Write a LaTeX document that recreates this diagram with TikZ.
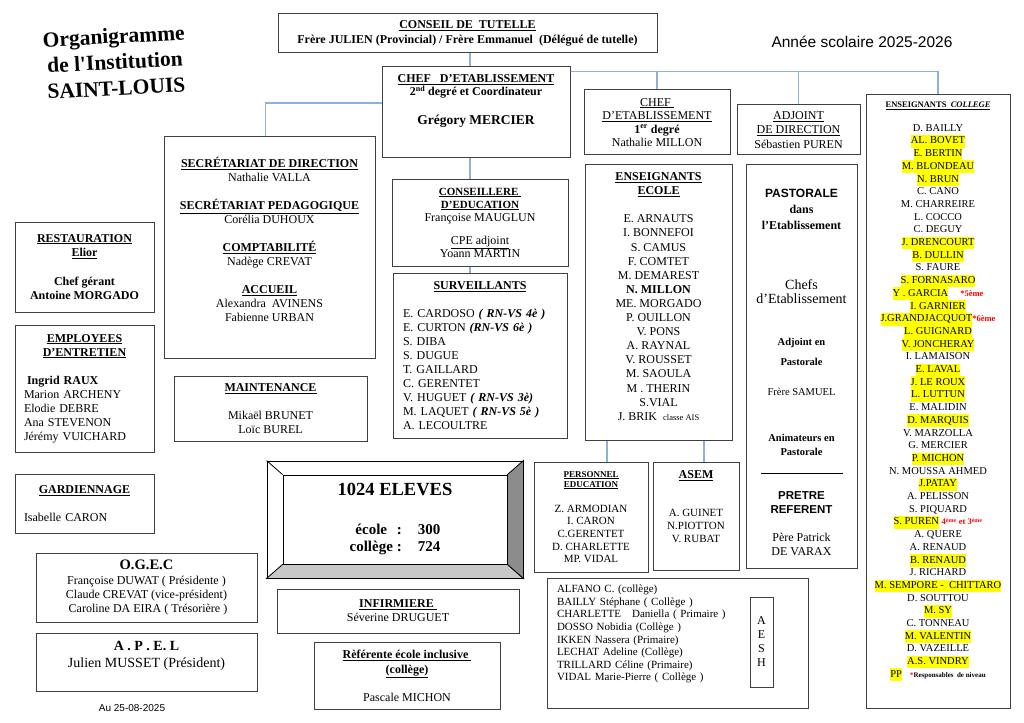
\documentclass[tikz,border=0pt]{standalone}
\usepackage{fontspec}
\setmainfont{Liberation Serif}
\newfontfamily\arialfont{Liberation Sans}
\usepackage{xcolor}
\usepackage{tikz}
\usetikzlibrary{calc}
\definecolor{linkblue}{RGB}{141,177,219}
\definecolor{hlyellow}{RGB}{255,255,0}
\definecolor{annred}{RGB}{255,0,0}
\definecolor{facedark}{RGB}{140,140,140}
\definecolor{facelight}{RGB}{200,200,200}
\newcommand{\fsz}[2]{\fontsize{#1}{#2}\selectfont}
\newcommand{\undl}[1]{\underline{#1}}
\newcommand{\lowpad}[1]{\rule[-#1]{0pt}{#1}}
\newcommand{\hl}[1]{{\setlength{\fboxsep}{0pt}\colorbox{hlyellow}{\strut #1}}}
\newcommand{\ann}[1]{\textcolor{annred}{\bfseries\fsz{8.5}{10}#1}}

\begin{document}
\begin{tikzpicture}[x=1pt,y=-1pt,
  unit/.style={draw=black!75,line width=1pt,fill=white,align=center,inner sep=0pt},
  link/.style={draw=linkblue,line width=1.3pt},
  titletext/.style={font=\bfseries\fsz{21.5}{26},align=center,rotate=3}
]
\fill[white] (0,0) rectangle (1024,722);
\useasboundingbox (0,0) rectangle (1024,722);

% title and year
\node[titletext] (title) at (115,62) {Organigramme\\de l\textquotesingle Institution\\SAINT-LOUIS};
\node[font=\arialfont\fsz{15.5}{18}] (year) at (862,42) {Année scolaire 2025-2026};

% direction
\node[unit,minimum width=379pt,minimum height=39pt,font=\bfseries\fsz{12}{14.5}] (conseil) at (467.5,33.5)
  {\undl{CONSEIL DE\ \ TUTELLE}\\Frère JULIEN (Provincial) / Frère Emmanuel\ \ (Délégué de tutelle)};
\node[unit,minimum width=188pt,minimum height=91pt,font=\bfseries\fsz{12}{13}] (chef) at (476,112.5)
  {\undl{CHEF\ \ \ D’ETABLISSEMENT}\\2\textsuperscript{nd} degré et Coordinateur\\[16pt]{\fsz{13.5}{16}Grégory MERCIER}\lowpad{25pt}};
\node[unit,minimum width=146pt,minimum height=65pt,font=\fsz{12}{13.5}] (chef1) at (657,122.5)
  {\undl{CHEF\ }\\\undl{D’ETABLISSEMENT}\\\textbf{1\textsuperscript{er} degré}\\Nathalie MILLON};
\node[unit,minimum width=123pt,minimum height=50pt,font=\fsz{12}{14.5}] (adj) at (798.5,130)
  {\undl{ADJOINT}\\\undl{DE DIRECTION}\\Sébastien PUREN};

% enseignants college
\node[unit,minimum width=144pt,minimum height=613pt,font=\fsz{10.5}{12.7}] (enscol) at (938,401.5) {
  {\fsz{8.5}{10}\bfseries\undl{ENSEIGNANTS\ \ \textit{COLLEGE}}}\\[11.3pt]
  D. BAILLY\\ \hl{AL. BOVET}\\ \hl{E. BERTIN}\\ \hl{M. BLONDEAU}\\ \hl{N. BRUN}\\
  C. CANO\\ M. CHARREIRE\\ L. COCCO\\ C. DEGUY\\ \hl{J. DRENCOURT}\\ \hl{B. DULLIN}\\
  S. FAURE\\ \hl{S. FORNASARO}\\ \hl{Y . GARCIA}\hspace{12pt}\ann{*5ème}\\
  \hl{I. GARNIER}\\ \hl{J.GRANDJACQUOT}\ann{*6ème}\\ \hl{L. GUIGNARD}\\ \hl{V. JONCHERAY}\\
  I. LAMAISON\\ \hl{E. LAVAL}\\ \hl{J. LE ROUX}\\ \hl{L. LUTTUN}\\ E. MALIDIN\\
  \hl{D. MARQUIS}\\ V. MARZOLLA\\ G. MERCIER\\ \hl{P. MICHON}\\ N. MOUSSA AHMED\\
  \hl{J.PATAY}\\ A. PELISSON\\ S. PIQUARD\\
  \hl{S. PUREN}\ \ann{4\textsuperscript{ème} et 3\textsuperscript{ème}}\\
  A. QUERE\\ A. RENAUD\\ \hl{B. RENAUD}\\ J. RICHARD\\ \hl{M. SEMPORE -\ \ CHITTARO}\\
  D. SOUTTOU\\ \hl{M. SY}\\ C. TONNEAU\\ \hl{M. VALENTIN}\\ D. VAZEILLE\\ \hl{A.S. VINDRY}\\
  \hl{PP}\hspace{8pt}{\fsz{7}{8}\bfseries\textcolor{annred}{*}Responsables\ \ de niveau}\lowpad{24pt}};

% administration
\node[unit,minimum width=211pt,minimum height=221pt,font=\fsz{12}{14}] (sec) at (269.5,247.5) {
  \textbf{\undl{SECRÉTARIAT DE DIRECTION}}\\
  Nathalie VALLA\hspace*{26pt}\\[14pt]
  \textbf{\undl{SECRÉTARIAT PEDAGOGIQUE}}\\
  Corélia DUHOUX\hspace*{34pt}\\[14pt]
  \textbf{\undl{COMPTABILITÉ}}\\
  Nadège CREVAT\\[14pt]
  \textbf{\undl{ACCUEIL}}\\
  Alexandra\ \ AVINENS\\
  Fabienne URBAN\lowpad{16pt}};
\node[unit,minimum width=176pt,minimum height=87pt,font=\fsz{12}{13}] (cons) at (480,222.5) {
  {\fsz{11}{13}\bfseries\undl{CONSEILLERE\ }}\\
  {\fsz{11}{13}\bfseries\undl{D’EDUCATION}}\\
  Françoise MAUGLUN\\[10pt]
  \undl{CPE adjoint}\\
  Yoann MARTIN};
\node[unit,minimum width=174pt,minimum height=165pt,text width=154pt,align=left,font=\fsz{12}{14}] (surv) at (480,355.5) {
  \makebox[\linewidth]{\bfseries\undl{SURVEILLANTS}}\\[14pt]
  E. CARDOSO \textbf{\textit{( RN-VS 4è )}}\\
  E. CURTON \textbf{\textit{(RN-VS 6è )}}\\
  S. DIBA\\
  S. DUGUE\\
  T. GAILLARD\\
  C. GERENTET\\
  V. HUGUET \textbf{\textit{( RN-VS 3è)}}\\
  M. LAQUET \textbf{\textit{( RN-VS 5è )}}\\
  A. LECOULTRE};
\node[unit,minimum width=147pt,minimum height=275pt,font=\fsz{12}{14.1}] (ensec) at (658.5,302.5) {
  \textbf{\undl{ENSEIGNANTS}}\\
  \textbf{\undl{ECOLE}}\\[14pt]
  E. ARNAUTS\\ I. BONNEFOI\\ S. CAMUS\\ F. COMTET\\ M. DEMAREST\\ \textbf{N. MILLON}\\
  ME. MORGADO\\ P. OUILLON\\ V. PONS\\ A. RAYNAL\\ V. ROUSSET\\ M. SAOULA\\
  M . THERIN\\ S.VIAL\\ J. BRIK\ \ {\fsz{8.5}{10}classe AIS}\lowpad{12pt}};
\node[unit,minimum width=111pt,minimum height=403pt,font=\fsz{12}{14}] (past) at (801.5,366.5) {
  \rule{0pt}{20pt}{\arialfont\bfseries PASTORALE}\\[2pt]
  \textbf{dans}\\[2pt]
  \textbf{l’Etablissement}\\[46pt]
  {\fsz{14}{16}Chefs}\\
  {\fsz{14}{16}d’Etablissement}\\[28pt]
  {\fsz{10.5}{12}\bfseries Adjoint en}\\[6pt]
  {\fsz{10.5}{12}\bfseries Pastorale}\\[16pt]
  {\fsz{10.5}{12}Frère SAMUEL}\\[32pt]
  {\fsz{10.5}{12}\bfseries Animateurs en}\\
  {\fsz{10.5}{12}\bfseries Pastorale}\\[4pt]
  \rule{82pt}{0.7pt}\\[12pt]
  {\arialfont\bfseries\fsz{11.5}{14}PRETRE}\\
  {\arialfont\bfseries\fsz{11.5}{14}REFERENT}\\[14pt]
  Père Patrick\\
  DE VARAX};

% services
\node[unit,minimum width=139pt,minimum height=90pt,font=\bfseries\fsz{12}{14.3}] (resto) at (84.5,267)
  {\undl{RESTAURATION}\\\undl{Elior}\\[14.7pt]Chef gérant\\Antoine MORGADO};
\node[unit,minimum width=139pt,minimum height=127pt,text width=121pt,align=left,font=\fsz{12}{14}] (empl) at (84.5,388.5) {
  \makebox[\linewidth]{\bfseries\undl{EMPLOYEES}}\\
  \makebox[\linewidth]{\bfseries\undl{D’ENTRETIEN}}\\[14pt]
  \hspace*{3pt}\textbf{Ingrid RAUX}\\
  Marion ARCHENY\\
  Elodie DEBRE\\
  Ana STEVENON\\
  Jérémy VUICHARD};
\node[unit,minimum width=193pt,minimum height=65pt,font=\fsz{12}{14}] (maint) at (270.5,408.5)
  {\textbf{\undl{MAINTENANCE}}\\[14pt]Mikaël BRUNET\\Loïc BUREL};
\node[unit,minimum width=139pt,minimum height=59pt,text width=121pt,align=left,font=\fsz{12}{14}] (gard) at (84.5,503.5)
  {\makebox[\linewidth]{\bfseries\undl{GARDIENNAGE}}\\[14pt]Isabelle CARON};
\node[unit,minimum width=221pt,minimum height=69pt,font=\fsz{12}{14}] (ogec) at (146.5,587.5)
  {{\fsz{14.5}{16}\bfseries O.G.E.C}\\[1pt]Françoise DUWAT ( Présidente )\\Claude CREVAT (vice-président)\\\ Caroline DA EIRA ( Trésorière )};
\node[unit,minimum width=221pt,minimum height=58pt,font=\fsz{14}{17}] (apel) at (146.5,662)
  {\textbf{A . P . E. L}\\Julien MUSSET (Président)\lowpad{15pt}};
\node[font=\arialfont\fsz{10}{12}] (date) at (132,708) {Au 25-08-2025};

% eleves
\node[unit,draw=black,line width=0.8pt,minimum width=256pt,minimum height=117pt] (eleves) at (395,519.5) {};
\node[unit,draw=black,line width=0.8pt,minimum width=224pt,minimum height=89pt,font=\bfseries\fsz{15}{17}] (elevin) at (eleves.center) {
  {\fsz{18.5}{20}1024 ELEVES}\\[22pt]
  \begin{tabular}[t]{@{}c@{\hspace{4pt}}c@{\hspace{16pt}}c@{}}école&:&300\\collège&:&724\end{tabular}};
\filldraw[fill=facelight,draw=black,line width=0.8pt] (eleves.south west) -- (eleves.south east) -- (elevin.south east) -- (elevin.south west) -- cycle;
\filldraw[fill=facedark,draw=black,line width=0.8pt] (eleves.north east) -- (eleves.south east) -- (elevin.south east) -- (elevin.north east) -- cycle;
\draw[black,line width=0.8pt] (eleves.north west) -- (elevin.north west);

% vie scolaire
\node[unit,minimum width=114pt,minimum height=110pt,font=\fsz{11}{12.7}] (ped) at (591,517) {
  {\fsz{9}{10}\bfseries\undl{PERSONNEL}}\\[-2.7pt]
  {\fsz{9}{10}\bfseries\undl{EDUCATION}}\\[12.3pt]
  Z. ARMODIAN\\ I. CARON\\ C.GERENTET\\ D. CHARLETTE\\ MP. VIDAL};
\node[unit,minimum width=86pt,minimum height=108pt,font=\fsz{11}{13}] (asem) at (696,516)
  {{\fsz{12}{13}\bfseries\undl{ASEM}}\\[25pt]A. GUINET\\N.PIOTTON\\V. RUBAT\lowpad{19pt}};
\node[unit,minimum width=261pt,minimum height=130pt,text width=241pt,align=left,font=\fsz{11}{12.6}] (aeshlist) at (677.5,643) {
  ALFANO C. (collège)\\
  BAILLY Stéphane ( Collège )\\
  CHARLETTE\ \ \ Daniella ( Primaire )\\
  DOSSO Nobidia (Collège )\\
  IKKEN Nassera (Primaire)\\
  LECHAT Adeline (Collège)\\
  TRILLARD Céline (Primaire)\\
  VIDAL Marie-Pierre ( Collège )\lowpad{20pt}};
\node[unit,minimum width=23pt,minimum height=90pt,font=\fsz{12}{14}] (aesh) at (761.5,642) {A\\E\\S\\H};
\node[unit,minimum width=242pt,minimum height=44pt,font=\fsz{12}{14}] (infirm) at (398,611)
  {\textbf{\undl{INFIRMIERE\ }}\\Séverine DRUGUET};
\node[unit,minimum width=186pt,minimum height=67pt,font=\fsz{12}{15}] (refer) at (407,675.5)
  {\textbf{\undl{Rèférente école inclusive\ }}\\\textbf{\undl{(collège)}}\\[13pt]Pascale MICHON};

% connectors
\coordinate (spine) at (470,0);
\draw[link] (conseil.south -| spine) -- (chef.north -| spine);
\draw[link] (chef.south -| spine) -- (cons.north -| spine);
\draw[link] (cons.south -| spine) -- (surv.north -| spine);
\coordinate (bus) at ([yshift=-5pt]chef.north east);
\draw[link] (bus) -| (chef1.north);
\draw[link] (bus) -| (adj.north);
\draw[link] (bus) -| (enscol.north);
\draw[link] ([yshift=9.5pt]chef.west) -| ([xshift=-4pt]sec.north);
\draw[link] ([xshift=16pt]ped.north) -- ([xshift=16pt]ped.north |- ensec.south);
\draw[link] ([xshift=8pt]asem.north) -- ([xshift=8pt]asem.north |- ensec.south);
\end{tikzpicture}
\end{document}
